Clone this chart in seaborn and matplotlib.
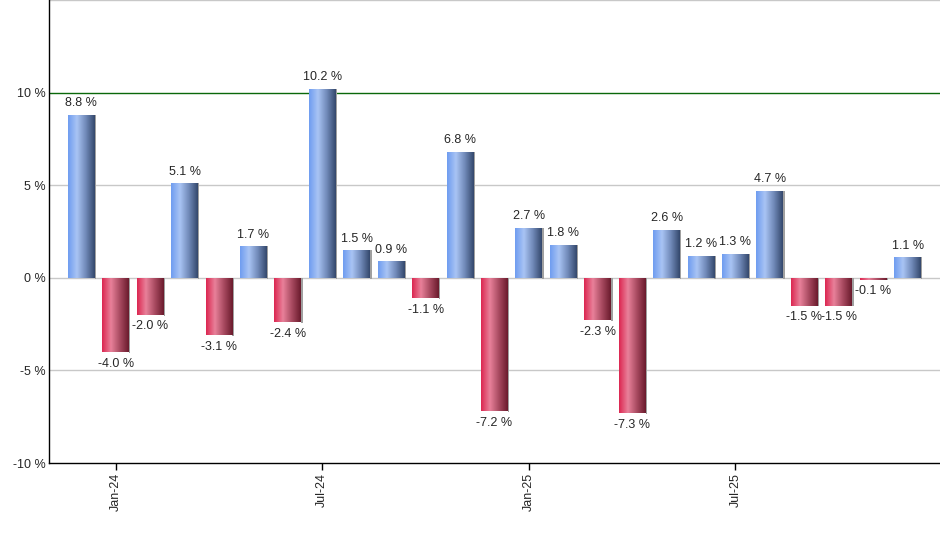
import numpy as np
import pandas as pd
import matplotlib
matplotlib.use("Agg")
import matplotlib.pyplot as plt
from matplotlib.colors import LinearSegmentedColormap
import seaborn as sns

# monthly returns, Dec-23 .. Dec-25
months = ["Dec-23", "Jan-24", "Feb-24", "Mar-24", "Apr-24", "May-24", "Jun-24",
          "Jul-24", "Aug-24", "Sep-24", "Oct-24", "Nov-24", "Dec-24", "Jan-25",
          "Feb-25", "Mar-25", "Apr-25", "May-25", "Jun-25", "Jul-25", "Aug-25",
          "Sep-25", "Oct-25", "Nov-25", "Dec-25"]
returns = [8.8, -4.0, -2.0, 5.1, -3.1, 1.7, -2.4, 10.2, 1.5, 0.9, -1.1, 6.8,
           -7.2, 2.7, 1.8, -2.3, -7.3, 2.6, 1.2, 1.3, 4.7, -1.5, -1.5, -0.1, 1.1]
tick_months = ["Jan-24", "Jul-24", "Jan-25", "Jul-25"]
y_ticks = [-10, -5, 0, 5, 10, 15]

d = pd.DataFrame({"Month": months, "Return": returns})

sns.set_style("white")
plt.rcParams["font.family"] = ["Liberation Sans", "DejaVu Sans"]

fig = plt.figure(figsize=(9.4, 5.5), dpi=100)
ax = fig.add_axes([0.052, 0.158, 0.948, 0.842])

sns.barplot(data=d, x="Month", y="Return", order=months, width=0.78,
            color="white", edgecolor="none", ax=ax, zorder=3)

blue = LinearSegmentedColormap.from_list("b", ["#6e9cf0", "#a9c4f4", "#7089b8", "#33476b"])
red = LinearSegmentedColormap.from_list("r", ["#dc2650", "#e8819a", "#a84a60", "#6a1a2c"])
grad = np.linspace(0, 1, 256).reshape(1, -1)

for patch, val in zip(ax.patches, returns):
    x0 = patch.get_x()
    w = patch.get_width()
    y0 = min(0, val)
    y1 = max(0, val)
    # little grey shadow on the right
    ax.fill_between([x0 + w, x0 + w + 0.04], [y0 - 0.04, y0 - 0.04], [y1, y1],
                    color="#a0a0a0", lw=0, zorder=2)
    im = ax.imshow(grad, cmap=blue if val >= 0 else red, aspect="auto",
                   extent=(x0, x0 + w, y0, y1), zorder=4, interpolation="bilinear")
    im.set_clip_path(patch)
    if val >= 0:
        ax.annotate(f"{val:.1f} %", (x0 + w / 2, val), xytext=(0, 4),
                    textcoords="offset points", ha="center", va="bottom", fontsize=9)
    else:
        ax.annotate(f"{val:.1f} %", (x0 + w / 2, val), xytext=(0, -4),
                    textcoords="offset points", ha="center", va="top", fontsize=9)

ax.set_xlim(-0.94, len(months) - 1 + 0.94)
ax.set_ylim(-10, 15)
ax.set_yticks(y_ticks)
ax.set_yticklabels([f"{t} %" if t < 15 else "" for t in y_ticks], fontsize=9)
ax.set_xticks([months.index(m) for m in tick_months])
ax.set_xticklabels(tick_months, rotation=90, fontsize=9)
ax.set_xlabel("")
ax.set_ylabel("")

for t in y_ticks:
    if t == 10:
        ax.axhline(t, color="#0a680a", lw=1, zorder=1)
    elif t > -10:
        ax.axhline(t, color="#c8c8c8", lw=1, zorder=1)

for s in ["top", "right"]:
    ax.spines[s].set_visible(False)
for s in ["left", "bottom"]:
    ax.spines[s].set_color("black")
    ax.spines[s].set_linewidth(1)
ax.tick_params(axis="x", length=5, width=1, color="black", pad=2, direction="out", bottom=True)
ax.tick_params(axis="y", length=0, pad=2)

fig.savefig("out.png", dpi=100)
